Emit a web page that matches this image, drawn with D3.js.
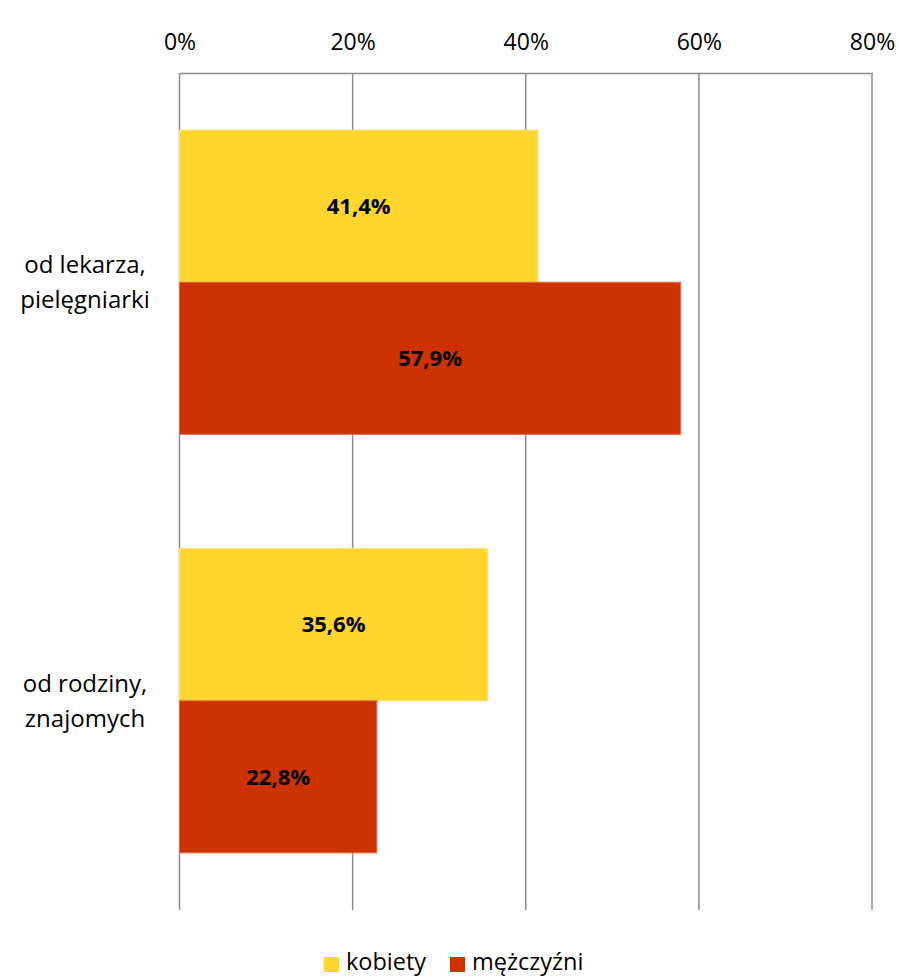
<!DOCTYPE html>
<html>
<head>
<meta charset="utf-8">
<script src="https://cdn.jsdelivr.net/npm/d3@7"></script>
<style>
  html, body { margin: 0; padding: 0; background: #fff; }
  svg { display: block; font-family: "Open Sans", sans-serif; }
</style>
</head>
<body>
<svg id="chart" width="899" height="977"></svg>
<script>
// Source categories (two lines per label) and series
const categories = [["od lekarza,", "pielęgniarki"], ["od rodziny,", "znajomych"]];
const seriesNames = ["kobiety", "mężczyźni"];
const kobiety = [41.4, 35.6];
const mezczyzni = [57.9, 22.8];
const tickValues = [0, 20, 40, 60, 80];
const colors = ["#FFD52E", "#CC3300"];

const svg = d3.select("#chart");
const margin = { left: 179.5, right: 27, top: 73, bottom: 67 };
const W = 899, H = 977;
const FONT = "'Open Sans', sans-serif";

const x = d3.scaleLinear().domain([0, 80]).range([margin.left, W - margin.right]);
const y = d3.scaleBand().domain(d3.range(categories.length))
  .range([margin.top, H - margin.bottom]).paddingInner(0.273).paddingOuter(0.1365);
const ySub = d3.scaleBand().domain(d3.range(seriesNames.length)).range([0, y.bandwidth()]);

// vertical grid lines
svg.append("g").selectAll("line").data(tickValues).join("line")
  .attr("x1", d => x(d)).attr("x2", d => x(d))
  .attr("y1", margin.top).attr("y2", H - margin.bottom)
  .attr("stroke", "#8c8c8c").attr("stroke-width", 1.5);

// top axis with percent labels
const axis = d3.axisTop(x).tickValues(tickValues).tickSize(0).tickPadding(0)
  .tickFormat(d => d + "%");
const gAxis = svg.append("g").attr("transform", `translate(0,${margin.top})`).call(axis);
gAxis.select(".domain").attr("stroke", "#8c8c8c").attr("stroke-width", 1.5);
gAxis.selectAll("text").attr("y", -23).attr("font-size", 23).attr("fill", "#000")
  .attr("font-family", FONT);

// bars
const data = [];
categories.forEach((c, i) => {
  [kobiety, mezczyzni].forEach((s, j) => data.push({ cat: i, ser: j, v: s[i] }));
});

svg.append("g").selectAll("rect").data(data).join("rect")
  .attr("x", x(0))
  .attr("y", d => y(d.cat) + ySub(d.ser))
  .attr("width", d => x(d.v) - x(0))
  .attr("height", ySub.bandwidth())
  .attr("fill", d => colors[d.ser])
  .attr("stroke", d => d.ser === 0 ? "#FFE36B" : "#E86A45")
  .attr("stroke-width", 1);

// value labels
svg.append("g").selectAll("text").data(data).join("text")
  .attr("x", d => (x(0) + x(d.v)) / 2)
  .attr("y", d => y(d.cat) + ySub(d.ser) + ySub.bandwidth() / 2)
  .attr("dy", "0.35em")
  .attr("text-anchor", "middle")
  .attr("font-size", 22).attr("font-weight", "bold").attr("fill", "#000")
  .text(d => d.v.toFixed(1).replace(".", ",") + "%");

// category labels
const catG = svg.append("g");
categories.forEach((lines, i) => {
  const cy = y(i) + y.bandwidth() / 2;
  const t = catG.append("text").attr("text-anchor", "middle")
    .attr("font-size", 24).attr("fill", "#000");
  lines.forEach((l, k) => {
    t.append("tspan").attr("x", 85)
      .attr("y", cy + (k - (lines.length - 1) / 2) * 35)
      .attr("dy", "0.35em").text(l);
  });
});

// legend
const legend = svg.append("g");
const legendX = [324, 450];
seriesNames.forEach((name, i) => {
  const lx = legendX[i];
  legend.append("rect").attr("x", lx).attr("y", 957).attr("width", 15).attr("height", 15)
    .attr("fill", colors[i]);
  legend.append("text").attr("x", lx + 22).attr("y", 970)
    .attr("font-size", 23.5).attr("fill", "#000").text(name);
});
</script>
</body>
</html>
